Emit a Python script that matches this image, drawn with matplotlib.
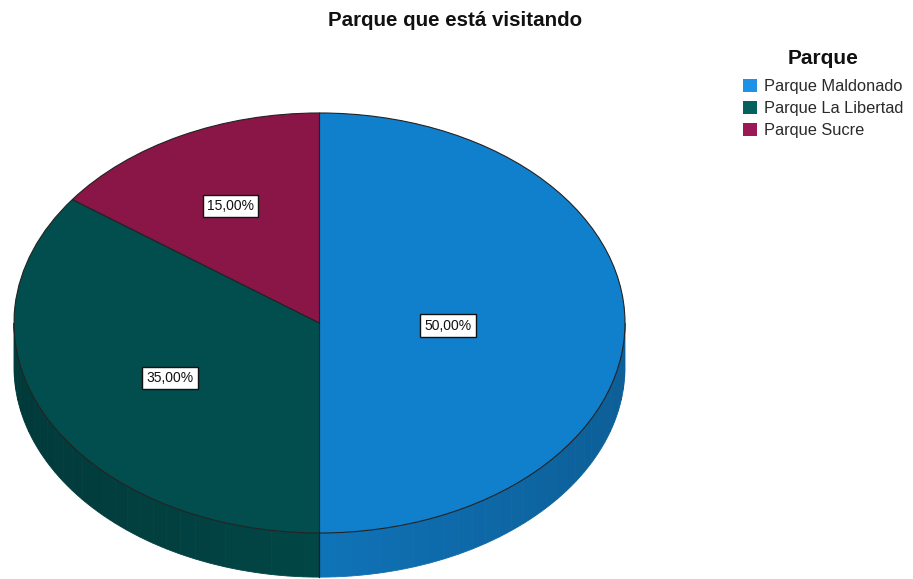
import numpy as np
import matplotlib
matplotlib.use('Agg')
import matplotlib.pyplot as plt
from matplotlib.patches import Polygon, Patch

plt.rcParams['font.family'] = ['Liberation Sans', 'DejaVu Sans']

# datos
parques = ['Parque Maldonado', 'Parque La Libertad', 'Parque Sucre']
porcentajes = [50.0, 35.0, 15.0]
etiquetas = ['50,00%', '35,00%', '15,00%']

colores = ['#1180cc', '#024e4e', '#8a1547']
colores_leyenda = ['#1d92e6', '#05615d', '#9b1a56']
radio_etiqueta = [0.42, 0.55, 0.64]

fig = plt.figure(figsize=(9.13, 5.79), dpi=100)
ax = fig.add_axes([0, 0, 1, 1])

depth = 0.21
start = 90.0
cum = np.concatenate([[0], np.cumsum(porcentajes)]) / np.sum(porcentajes) * 360.0

# lateral (efecto 3D), solo la mitad inferior es visible
for i in range(len(porcentajes)):
    t1 = start - cum[i + 1]
    t2 = start - cum[i]
    a = max(t1, -180.0)
    b = min(t2, 0.0)
    if a >= b:
        continue
    base = np.array(matplotlib.colors.to_rgb(colores[i]))
    n = max(int((b - a) / 3), 2)
    edges = np.linspace(a, b, n + 1)
    for k in range(n):
        tt = np.radians(np.linspace(edges[k], edges[k + 1], 6))
        xs = np.cos(tt)
        ys = np.sin(tt)
        pts = np.concatenate([np.column_stack([xs, ys]),
                              np.column_stack([xs[::-1], ys[::-1] - depth])])
        mid = np.radians((edges[k] + edges[k + 1]) / 2)
        f = 0.9 - 0.16 * abs(np.cos(mid))
        ax.add_patch(Polygon(pts, closed=True, facecolor=base * f,
                             edgecolor=base * f, linewidth=0.6, zorder=1))
    # division entre porciones en el lateral
    for t in (t1, t2):
        if -180.0 < t < 0.0:
            r = np.radians(t)
            ax.plot([np.cos(r), np.cos(r)], [np.sin(r), np.sin(r) - depth],
                    color='#1a1a1a', linewidth=0.8, zorder=1.5)

wedges, _ = ax.pie(porcentajes, colors=colores, startangle=90, counterclock=False,
                   radius=1, wedgeprops=dict(edgecolor='#222222', linewidth=0.8))
for w in wedges:
    w.set_zorder(2)

for i, lab in enumerate(etiquetas):
    mid = np.radians(start - (cum[i] + cum[i + 1]) / 2)
    r = radio_etiqueta[i]
    ax.text(r * np.cos(mid), r * np.sin(mid) - 0.012, lab, ha='center', va='center',
            fontsize=10, color='#111111', zorder=5,
            bbox=dict(boxstyle='square,pad=0.3', facecolor='white',
                      edgecolor='#111111', linewidth=1.0))

ax.set_aspect('auto')
ax.set_xlim(-1.0458, 1.9427)
ax.set_ylim(-1.219, 1.538)
ax.axis('off')

fig.text(455 / 913, 1 - 20 / 579, 'Parque que está visitando', ha='center', va='center',
         fontsize=14.8, fontweight='bold', color='#111111')

fig.text(823 / 913, 1 - 64 / 579, 'Parque', ha='center', va='baseline',
         fontsize=15, fontweight='bold', color='#111111')

handles = [Patch(facecolor=c, edgecolor='none') for c in colores_leyenda]
leg = fig.legend(handles, parques, loc='upper center',
                 bbox_to_anchor=(823 / 913, 1 - 79 / 579), frameon=False,
                 fontsize=11.8, handlelength=0.85, handleheight=0.85, handletextpad=0.45,
                 labelspacing=0.42, borderpad=0, borderaxespad=0)
for t in leg.get_texts():
    t.set_color('#2a2a2a')

fig.savefig('out.png', dpi=100)
